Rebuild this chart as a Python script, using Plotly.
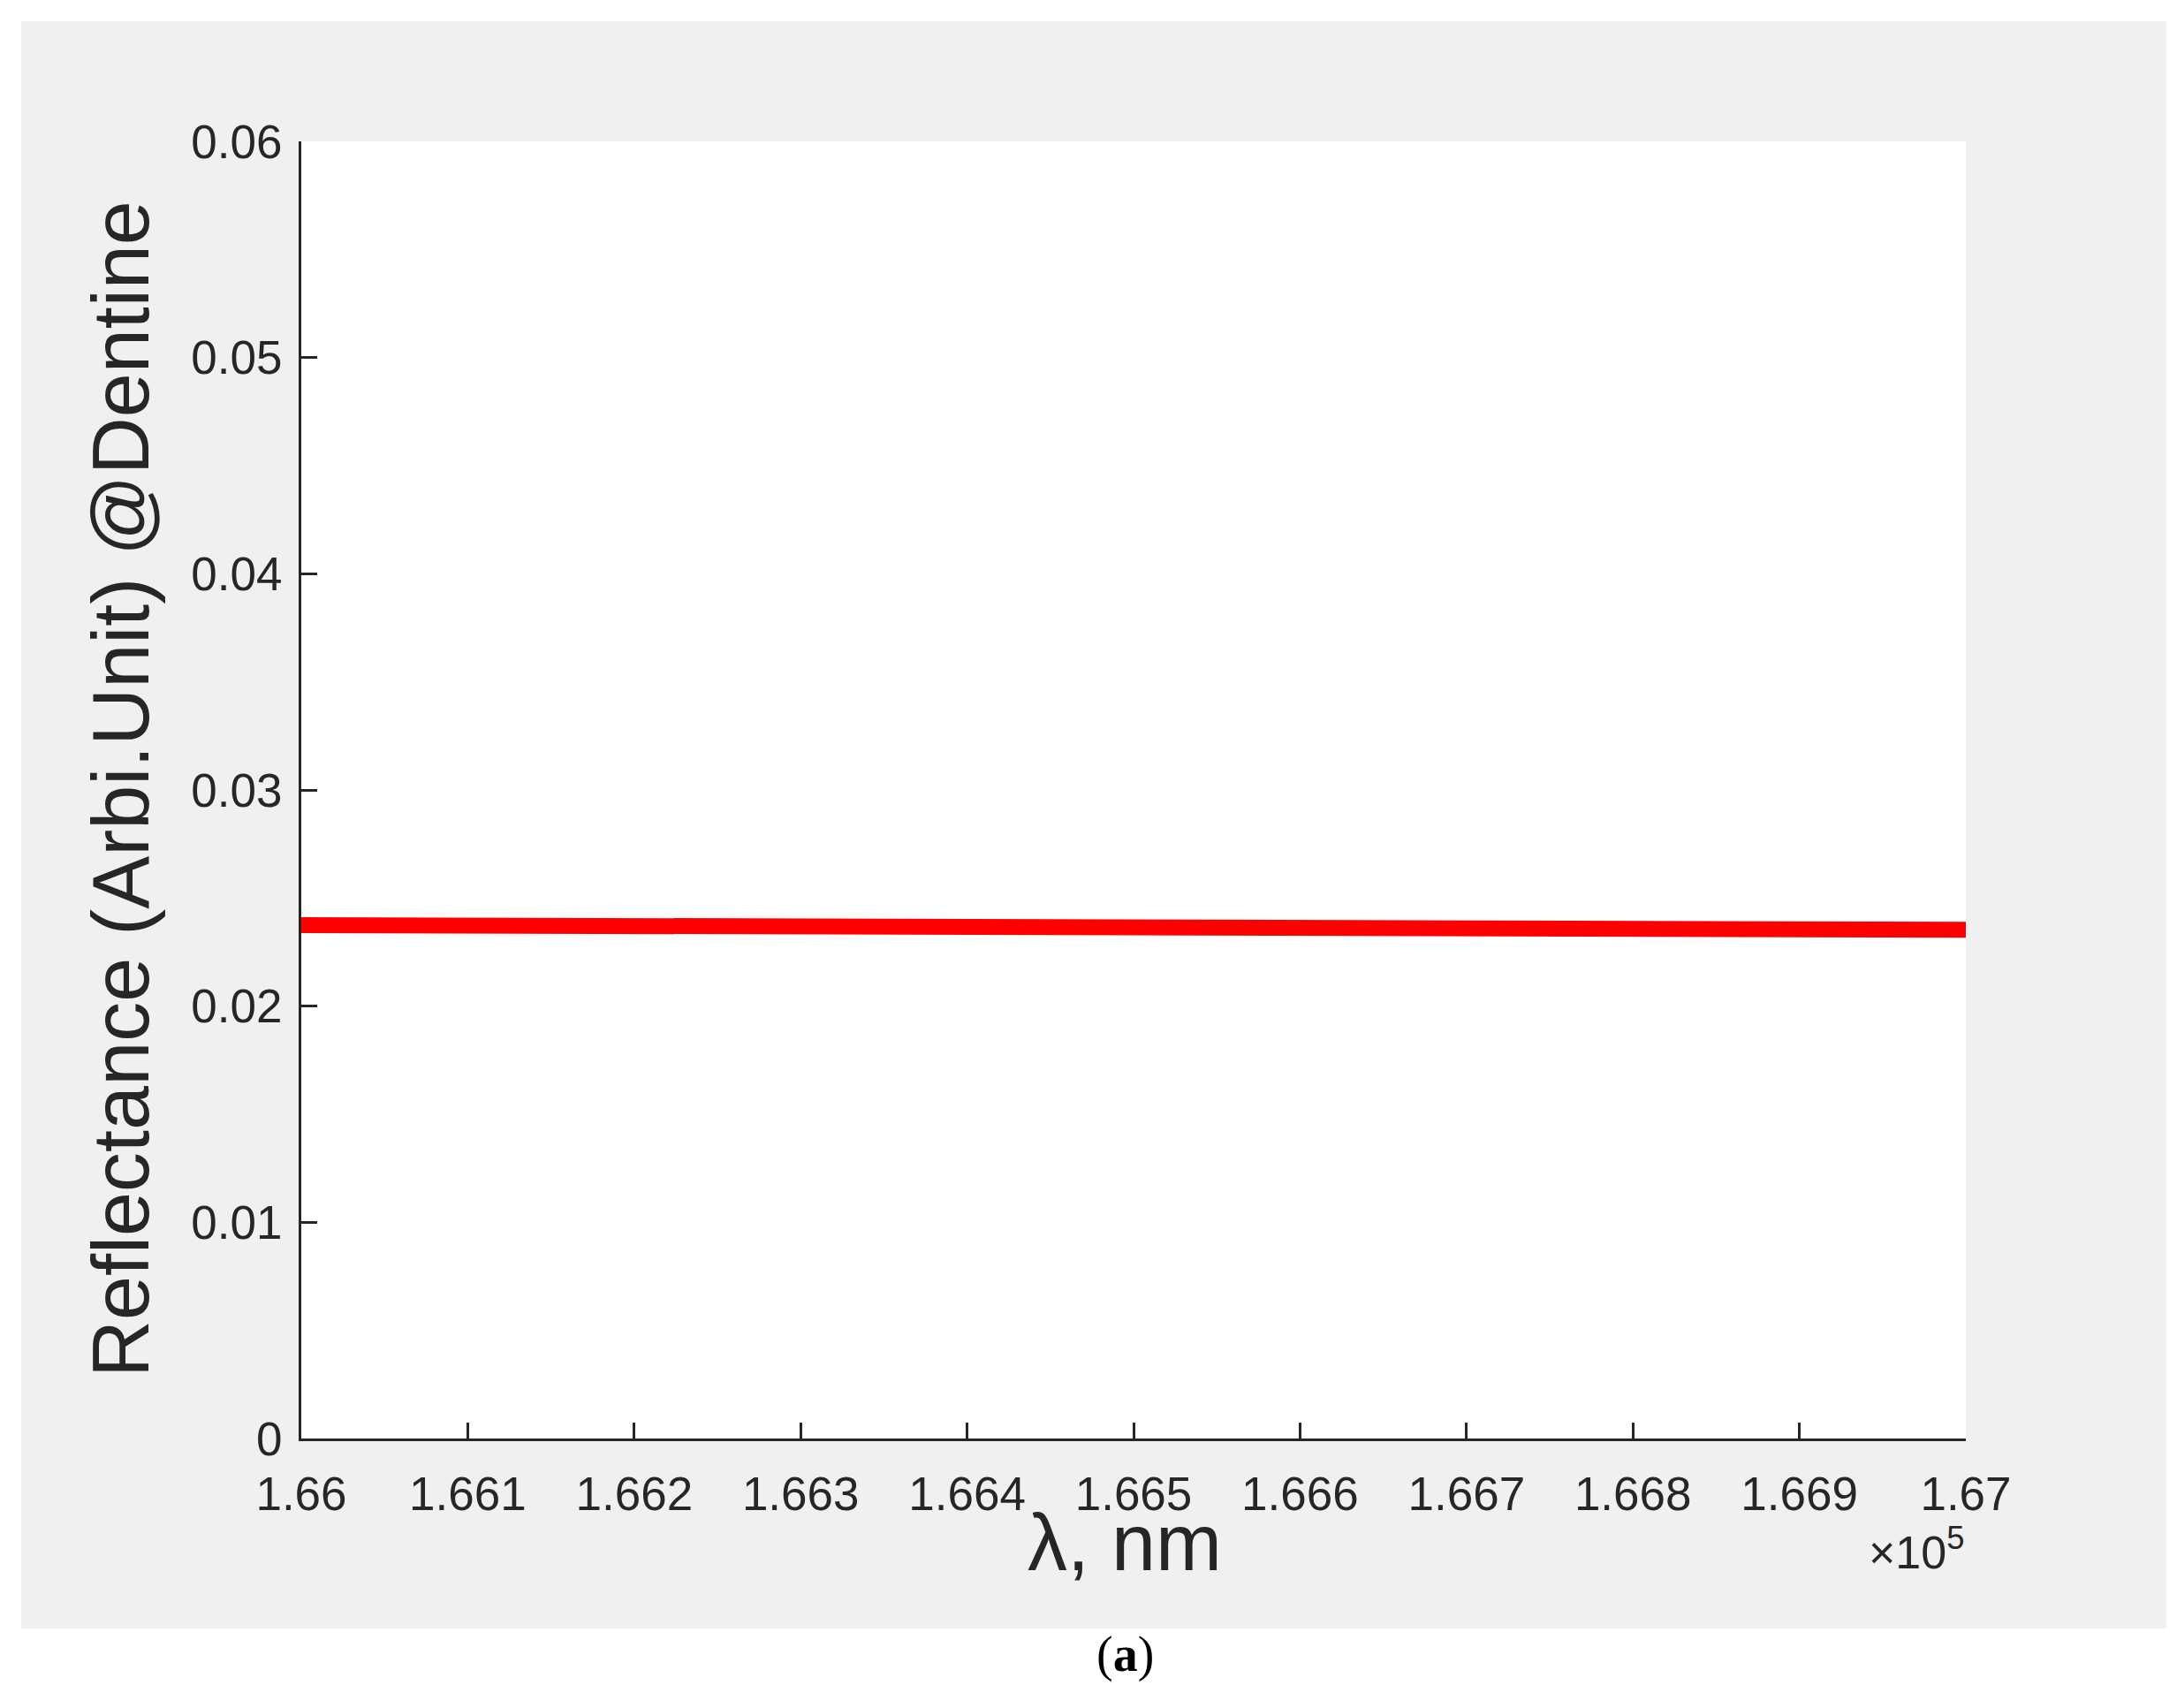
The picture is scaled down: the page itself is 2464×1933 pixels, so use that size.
import plotly.graph_objects as go

wavelength_e5 = [1.660, 1.661, 1.662, 1.663, 1.664, 1.665, 1.666, 1.667, 1.668, 1.669, 1.670]
reflectance = [0.02375, 0.02373, 0.02371, 0.02369, 0.02367, 0.02365, 0.02363, 0.02361, 0.02359, 0.02356, 0.02353]
xticks = [1.660, 1.661, 1.662, 1.663, 1.664, 1.665, 1.666, 1.667, 1.668, 1.669, 1.670]
xticklabels = ["1.66", "1.661", "1.662", "1.663", "1.664", "1.665", "1.666", "1.667", "1.668", "1.669", "1.67"]
yticks = [0, 0.01, 0.02, 0.03, 0.04, 0.05, 0.06]
yticklabels = ["0", "0.01", "0.02", "0.03", "0.04", "0.05", "0.06"]

W, H = 2464, 1933
L, R, T, B = 333, 2217, 152, 1620
pw, ph = R - L, B - T
def px(x): return (x - L) / pw
def py(y): return (B - y) / ph

fig = go.Figure(go.Scatter(x=wavelength_e5, y=reflectance, mode="lines",
                           line=dict(color="#ff0000", width=18), showlegend=False))
font = "Liberation Sans, Arial"
gray = "#f0f0f0"
def rect(x0, x1, y0, y1):
    return dict(type="rect", xref="paper", yref="paper", layer="below",
                x0=px(x0), x1=px(x1), y0=py(y1), y1=py(y0),
                fillcolor=gray, line=dict(width=0))
shapes = [rect(16, 2444, 16, T), rect(16, 2444, B, 1835),
          rect(16, L, T, B), rect(R, 2444, T, B)]
axcommon = dict(ticks="inside", ticklen=18, tickwidth=3, tickcolor="#262626",
                showline=True, linewidth=3, linecolor="#262626", showgrid=False,
                zeroline=False, tickfont=dict(size=53, family=font, color="#262626"))
fig.update_layout(
    width=W, height=H, margin=dict(l=L, r=W - R, t=T, b=H - B),
    paper_bgcolor="white", plot_bgcolor="white",
    font=dict(family=font, color="#262626"),
    xaxis=dict(range=[1.660, 1.670], tickvals=xticks, ticktext=xticklabels,
               ticklabelstandoff=14, **axcommon),
    yaxis=dict(range=[0, 0.06], tickvals=yticks, ticktext=yticklabels,
               ticklabelstandoff=8, **axcommon),
    shapes=shapes,
    annotations=[
        dict(text="λ, nm", x=px(1265), y=py(1790), xref="paper", yref="paper",
             showarrow=False, font=dict(size=90, family=font, color="#262626")),
        dict(text="Reflectance (Arbi.Unit) @Dentine", x=px(129), y=py(885),
             xref="paper", yref="paper", xanchor="center", yanchor="middle",
             textangle=-90, showarrow=False,
             font=dict(size=90, family=font, color="#262626")),
        dict(text="×10<sup>5</sup>", x=px(2217), y=py(1780), xref="paper", yref="paper",
             xanchor="right", showarrow=False,
             font=dict(size=52, family=font, color="#262626")),
        dict(text="(<b>a</b>)", x=px(1265), y=py(1898), xref="paper", yref="paper",
             showarrow=False, font=dict(size=56, family="Liberation Serif", color="black")),
    ],
)
fig.write_html("out.html")
